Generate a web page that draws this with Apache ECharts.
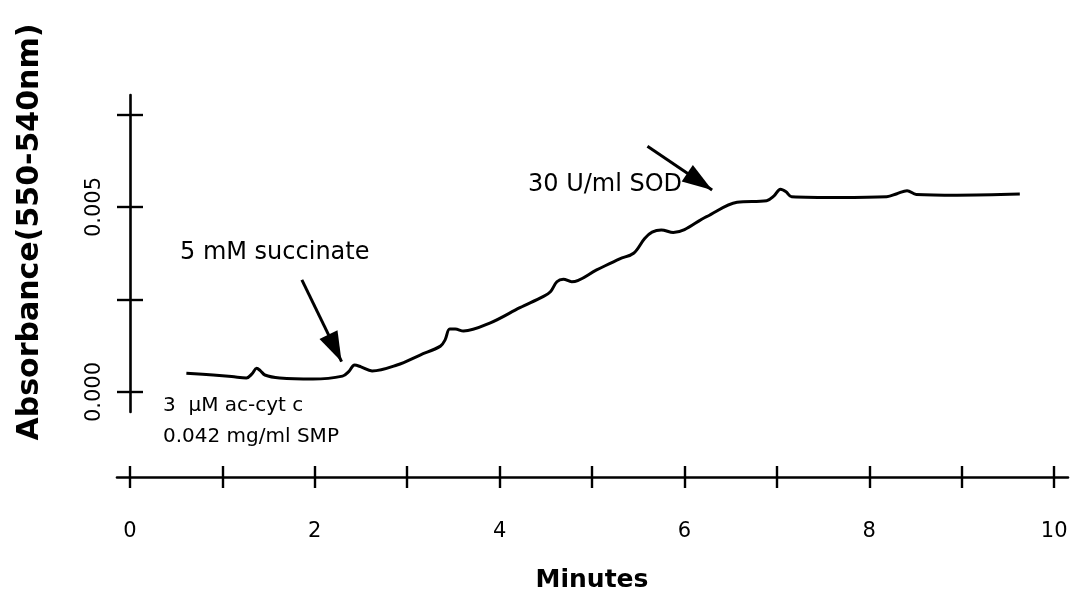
<!DOCTYPE html>
<html>
<head>
<meta charset="utf-8">
<script src="https://cdn.jsdelivr.net/npm/echarts@6/dist/echarts.min.js"></script>
<style>
  html, body { margin: 0; padding: 0; background: #fff; }
  #chart { width: 1080px; height: 601px; }
</style>
</head>
<body>
<div id="chart"></div>
<script>
// Recorded trace: time (min) and absorbance difference (550-540 nm)
const minutes = [0.61, 0.90, 1.10, 1.26, 1.32, 1.37, 1.41, 1.46, 1.62, 1.98,
                 2.30, 2.37, 2.43, 2.50, 2.62, 2.89, 3.14, 3.36, 3.41, 3.46,
                 3.52, 3.61, 3.90, 4.22, 4.47, 4.55, 4.62, 4.69, 4.78, 5.05,
                 5.30, 5.45, 5.57, 5.65, 5.75, 5.88, 6.24, 6.57, 6.89, 6.97,
                 7.04, 7.10, 7.16, 7.68, 8.19, 8.30, 8.41, 8.51, 8.95, 9.63];
const absorbance = [0.00051, 0.00046, 0.00042, 0.00038, 0.00049, 0.00064, 0.00058, 0.00046, 0.00038, 0.00035,
                    0.00043, 0.00056, 0.00073, 0.00068, 0.00057, 0.00073, 0.00100, 0.00124, 0.00141, 0.00170,
                    0.00170, 0.00165, 0.00187, 0.00228, 0.00258, 0.00271, 0.00298, 0.00305, 0.00298, 0.00330,
                    0.00360, 0.00375, 0.00415, 0.00432, 0.00438, 0.00431, 0.00474, 0.00513, 0.00517, 0.00530,
                    0.00548, 0.00541, 0.00528, 0.00526, 0.00528, 0.00536, 0.00544, 0.00534, 0.00532, 0.00535];

const xTicks = [0, 1, 2, 3, 4, 5, 6, 7, 8, 9, 10];
const xTickLabels = [0, 2, 4, 6, 8, 10];
const yTicks = [0, 0.0025, 0.005, 0.0075];
const yTickLabels = [0, 0.005];

// Additions marked on the trace: arrow tail and arrow tip
const succinateArrow = [[1.86, 0.00303], [2.29, 0.00082]];
const sodArrow = [[5.60, 0.00664], [6.30, 0.00546]];

const FONT = 'DejaVu Sans';
const INK = '#000';
const HEAD = [20, 30];

const chart = echarts.init(document.getElementById('chart'), null, { renderer: 'canvas' });

const tickStyle = { color: INK, width: 2.4 };

function arrow(pts) {
  return [
    { coord: pts[0], symbol: 'none' },
    { coord: pts[1], symbol: 'triangle', symbolSize: HEAD, symbolOffset: [0, HEAD[1] / 2] }
  ];
}

const option = {
  animation: false,
  backgroundColor: '#fff',
  grid: [
    { left: 130, top: 95, width: 924, height: 317, containLabel: false },
    { left: 117, top: 440, width: 951, height: 37, containLabel: false }
  ],
  xAxis: [
    { gridIndex: 0, type: 'value', min: 0, max: 10, show: false },
    {
      gridIndex: 1, type: 'value', min: -0.14, max: 10.15, position: 'bottom',
      axisLine: { show: true, lineStyle: { color: INK, width: 2.6 } },
      axisTick: { show: true, length: 11, inside: false, customValues: xTicks, lineStyle: tickStyle },
      axisLabel: { show: true, customValues: xTickLabels, margin: 44, color: INK,
                   fontFamily: FONT, fontSize: 21 },
      splitLine: { show: false }
    },
    {
      gridIndex: 1, type: 'value', min: -0.14, max: 10.15, position: 'bottom',
      axisLine: { show: false },
      axisTick: { show: true, length: 11, inside: true, customValues: xTicks, lineStyle: tickStyle },
      axisLabel: { show: false },
      splitLine: { show: false }
    }
  ],
  yAxis: [
    {
      gridIndex: 0, type: 'value', min: -0.00054, max: 0.008027, position: 'left',
      axisLine: { show: true, lineStyle: { color: INK, width: 2.6 } },
      axisTick: { show: true, length: 13, inside: false, customValues: yTicks, lineStyle: tickStyle },
      axisLabel: { show: true, customValues: yTickLabels, rotate: 90, margin: 25, color: INK,
                   fontFamily: FONT, fontSize: 21,
                   formatter: v => v.toFixed(3) },
      splitLine: { show: false }
    },
    {
      gridIndex: 0, type: 'value', min: -0.00054, max: 0.008027, position: 'left',
      axisLine: { show: false },
      axisTick: { show: true, length: 13, inside: true, customValues: yTicks, lineStyle: tickStyle },
      axisLabel: { show: false },
      splitLine: { show: false }
    },
    { gridIndex: 1, type: 'value', min: 0, max: 1, show: false }
  ],
  series: [
    {
      type: 'line',
      xAxisIndex: 0,
      yAxisIndex: 0,
      data: minutes.map((t, i) => [t, absorbance[i]]),
      showSymbol: false,
      smooth: 0.35,
      lineStyle: { color: INK, width: 3 },
      markLine: {
        silent: true,
        animation: false,
        label: { show: false },
        lineStyle: { color: INK, width: 3, type: 'solid' },
        symbol: ['none', 'triangle'],
        data: [arrow(succinateArrow), arrow(sodArrow)]
      }
    }
  ],
  graphic: [
    { type: 'text', x: 30, y: 232, rotation: Math.PI / 2,
      style: { text: 'Absorbance(550-540nm)', fill: INK, font: `bold 30px "${FONT}"`,
               textAlign: 'center', textVerticalAlign: 'middle', letterSpacing: 4.5 } },
    { type: 'text', x: 592, y: 580,
      style: { text: 'Minutes', fill: INK, font: `bold 25px "${FONT}"`,
               textAlign: 'center', textVerticalAlign: 'middle', letterSpacing: 2 } },
    { type: 'text', x: 180, y: 253,
      style: { text: '5 mM succinate', fill: INK, font: `24px "${FONT}"`,
               textAlign: 'left', textVerticalAlign: 'middle' } },
    { type: 'text', x: 528, y: 185,
      style: { text: '30 U/ml SOD', fill: INK, font: `24px "${FONT}"`,
               textAlign: 'left', textVerticalAlign: 'middle' } },
    { type: 'text', x: 163, y: 406,
      style: { text: '3  μM ac-cyt c', fill: INK, font: `20px "${FONT}"`,
               textAlign: 'left', textVerticalAlign: 'middle' } },
    { type: 'text', x: 163, y: 437,
      style: { text: '0.042 mg/ml SMP', fill: INK, font: `20px "${FONT}"`,
               textAlign: 'left', textVerticalAlign: 'middle' } }
  ]
};

chart.setOption(option);
</script>
</body>
</html>
